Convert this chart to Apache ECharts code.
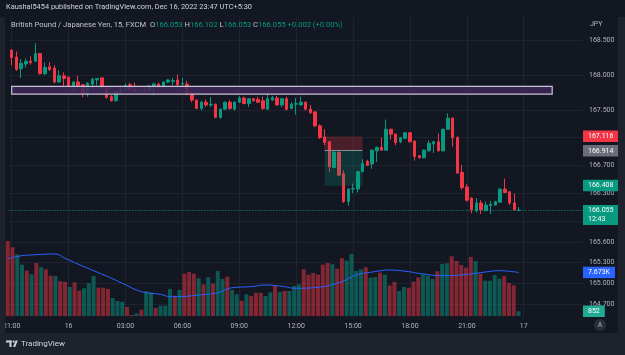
<!DOCTYPE html>
<html>
<head>
<meta charset="utf-8">
<title>GBPJPY 15m</title>
<script src="https://cdn.jsdelivr.net/npm/echarts@6.0.0/dist/echarts.min.js"></script>
<style>
  html, body { margin: 0; padding: 0; background: #131722; }
  #chart { width: 625px; height: 355px; }
</style>
</head>
<body>
<div id="chart"></div>
<script>
// 15 minute bars, 21:00 Dec 15 .. 23:45 Dec 16 (UTC+5:30)
var opens = [
  168.36,168.26,168.09,168.16,168.20,168.20,168.31,168.02,168.12,168.10,
  167.90,167.99,167.97,167.84,167.90,167.86,167.73,167.87,167.93,167.96,
  167.83,167.69,167.63,167.75,167.79,167.86,167.80,167.76,167.78,167.77,
  167.83,167.87,167.83,167.90,167.91,167.93,167.87,167.87,167.74,167.64,
  167.52,167.61,167.57,167.58,167.39,167.51,167.61,167.51,167.61,167.67,
  167.59,167.66,167.65,167.63,167.51,167.64,167.67,167.57,167.66,167.52,
  167.58,167.57,167.61,167.51,167.47,167.27,167.11,167.04,166.67,166.89,
  166.58,166.18,166.36,166.36,166.61,166.76,166.72,166.91,166.96,166.92,
  167.22,167.15,167.04,167.09,167.17,167.05,166.84,166.81,166.91,167.01,
  167.04,166.91,167.22,167.38,167.10,166.60,166.39,166.23,166.05,166.16,
  166.05,166.12,166.13,166.17,166.36,166.32,166.16,166.053
];
var closes = [
  168.25,168.08,168.17,168.20,168.18,168.31,168.02,168.11,168.08,167.90,
  167.99,167.95,167.84,167.90,167.85,167.73,167.88,167.94,167.95,167.82,
  167.68,167.63,167.76,167.80,167.85,167.79,167.77,167.78,167.76,167.84,
  167.87,167.82,167.90,167.93,167.92,167.86,167.88,167.73,167.64,167.52,
  167.61,167.57,167.58,167.39,167.51,167.61,167.52,167.61,167.67,167.59,
  167.66,167.63,167.61,167.52,167.66,167.68,167.57,167.66,167.51,167.58,
  167.59,167.61,167.51,167.46,167.27,167.10,167.03,166.68,166.89,166.56,
  166.18,166.36,166.37,166.61,166.73,166.70,166.92,166.96,166.92,167.22,
  167.15,167.03,167.10,167.17,167.04,166.83,166.81,166.92,167.02,167.04,
  166.91,167.22,167.38,167.10,166.59,166.38,166.20,166.06,166.16,166.06,
  166.13,166.14,166.18,166.36,166.31,166.16,166.06,166.055
];
var lows = [
  168.14,168.06,167.96,168.11,168.15,168.19,168.01,168.00,168.06,167.88,
  167.89,167.84,167.83,167.75,167.83,167.68,167.69,167.80,167.85,167.80,
  167.66,167.62,167.62,167.74,167.76,167.77,167.76,167.76,167.75,167.76,
  167.71,167.81,167.80,167.89,167.85,167.85,167.82,167.71,167.61,167.51,
  167.49,167.54,167.54,167.38,167.37,167.50,167.50,167.49,167.60,167.58,
  167.54,167.62,167.60,167.50,167.50,167.63,167.56,167.54,167.49,167.51,
  167.43,167.56,167.49,167.44,167.25,167.08,166.99,166.61,166.66,166.55,
  166.16,166.12,166.30,166.31,166.60,166.69,166.65,166.75,166.91,166.91,
  167.07,166.99,167.02,167.08,167.03,166.77,166.80,166.80,166.90,166.88,
  166.90,166.90,167.21,166.97,166.58,166.35,166.18,166.01,166.02,166.00,
  166.04,166.00,166.12,166.16,166.30,166.13,166.05,166.053
];
var highs = [
  168.37,168.34,168.23,168.24,168.27,168.46,168.32,168.18,168.19,168.14,
  168.07,168.04,167.98,167.91,167.99,167.87,167.90,167.96,167.95,167.96,
  167.84,167.71,167.77,167.83,167.88,167.89,167.89,167.80,167.84,167.86,
  167.89,167.89,167.91,167.94,167.96,168.01,167.96,167.92,167.77,167.65,
  167.63,167.65,167.68,167.59,167.52,167.62,167.64,167.62,167.70,167.69,
  167.67,167.67,167.69,167.69,167.74,167.70,167.70,167.67,167.69,167.61,
  167.67,167.69,167.62,167.57,167.48,167.29,167.22,167.05,166.91,166.90,
  166.63,166.37,166.44,166.62,166.79,166.78,166.93,166.97,167.10,167.36,
  167.23,167.16,167.11,167.18,167.18,167.06,166.85,166.93,167.06,167.05,
  167.16,167.23,167.45,167.39,167.12,166.71,166.43,166.24,166.23,166.20,
  166.18,166.19,166.19,166.37,166.51,166.33,166.29,166.102
];
var volumes = [
  13200,12100,10860,9040,7980,7350,9330,8580,8230,7100,
  7050,6120,6000,5120,5940,4470,4890,5770,7050,4990,
  4990,4760,3180,2650,2530,1600,190,490,1130,4360,
  4110,1420,1830,1830,4760,3590,4590,7450,7750,7450,
  6650,5560,6820,5700,7930,6520,6930,4590,3830,2710,
  3830,3530,4110,4110,3530,4180,5410,4240,4410,4410,
  5290,5590,8230,7280,7580,7280,9040,9330,9110,8330,
  10160,9740,10920,7930,8230,8580,6750,6820,7630,7280,
  5410,6000,4410,5120,4990,6050,6820,7350,7100,6520,
  7880,9160,9280,10510,9690,8980,8510,10390,9630,7450,
  6220,6220,7230,6570,7050,5820,5410,852
];
// volume moving average, read at a few bars
var volMaIdx = [0,3,5,10,12,16,21,24,28,32,34,36,40,42,44,47,51,54,58,60,66,70,73,76,80,84,86,91,95,99,103,107];
var volMaVal = [10090,10620,10740,10920,10160,8680,6930,5770,4290,3830,3410,3410,3710,3830,4110,4990,5170,5470,5170,4890,5170,6050,7230,7700,8100,7810,7520,7100,7230,7630,7980,7673];

var gridTicks = [168.5, 168.0, 167.5, 167.1, 166.7, 166.3, 165.9, 165.6, 165.3, 165.0, 164.7];
var shownTicks = ['168.5', '168.0', '167.5', '166.7', '166.3', '165.6', '165.3', '165.0', '164.7'];

// drawings on the chart
var rectTop = 167.838, rectBottom = 167.727, rectEndBar = 114;
var posStop = 167.116, posEntry = 166.914, posTarget = 166.408, posFrom = 66, posTo = 74;
var lastPrice = 166.055;
var lastLabelBar = 108;

var UP = '#089981', DOWN = '#f23645';
var FONT = 'Roboto, "Liberation Sans", sans-serif';
var CLEAR = 'rgba(0,0,0,0)';

function pad(n) { return n < 10 ? '0' + n : '' + n; }
var categories = [], tickText = [];
var t0 = Date.UTC(2022, 11, 15, 21, 0);
for (var i = 0; i < 121; i++) {
  var d = new Date(t0 + i * 15 * 60000);
  var h = d.getUTCHours(), m = d.getUTCMinutes();
  categories.push(d.getUTCDate() + ' ' + pad(h) + ':' + pad(m));
  var lab = '';
  if (i <= lastLabelBar && m === 0) {
    if (h === 0) lab = String(d.getUTCDate());
    else if (h % 3 === 0) lab = pad(h) + ':00';
  }
  tickText.push(lab);
}

var candles = opens.map(function (o, i) { return [o, closes[i], lows[i], highs[i]]; });
var volData = volumes.map(function (v, i) {
  return { value: v, itemStyle: { color: closes[i] >= opens[i] ? 'rgba(8,153,129,0.5)' : 'rgba(242,54,69,0.5)' } };
});
var maData = volMaIdx.map(function (x, i) { return [x, volMaVal[i]]; });

var gridLines = gridTicks.map(function (v) { return { yAxis: v }; });
tickText.forEach(function (t, i) { if (t) gridLines.push({ xAxis: categories[i] }); });

function tag(value, text, bg, line, offsetY) {
  return {
    yAxis: value,
    lineStyle: line || { color: CLEAR, width: 0 },
    label: {
      show: true, position: 'end', distance: 0, formatter: text,
      backgroundColor: bg, color: '#ffffff', padding: [1.5, 5, 1.5, 5],
      fontSize: 7, fontFamily: FONT, lineHeight: 8.5,
      offset: [0, offsetY || 0]
    }
  };
}

var chart = echarts.init(document.getElementById('chart'), null, { renderer: 'canvas' });

var option = {
  backgroundColor: '#131722',
  animation: false,
  textStyle: { fontFamily: FONT },
  grid: [
    { left: 5.3, right: 42, top: 16.7, bottom: 36.7 },
    { left: 5.3, right: 42, top: 16.7, bottom: 38.9 }
  ],
  xAxis: [
    {
      type: 'category', gridIndex: 0, data: categories, boundaryGap: true,
      axisLine: { show: false }, axisTick: { show: false }, splitLine: { show: false },
      axisLabel: {
        color: '#b2b5be', fontSize: 7, margin: 4,
        interval: function (idx) { return tickText[idx] !== ''; },
        formatter: function (v, idx) { return tickText[idx]; }
      }
    },
    { type: 'category', gridIndex: 1, data: categories, boundaryGap: true, show: false }
  ],
  yAxis: [
    {
      type: 'value', gridIndex: 0, position: 'right',
      min: 164.5, max: 168.84, interval: 0.1,
      axisLine: { show: false }, axisTick: { show: false }, splitLine: { show: false },
      axisLabel: {
        color: '#b2b5be', fontSize: 7, margin: 6,
        formatter: function (v) {
          return shownTicks.indexOf(v.toFixed(1)) >= 0 ? v.toFixed(3) : '';
        }
      }
    },
    { type: 'value', gridIndex: 1, min: 0, max: 52600, show: false }
  ],
  series: [
    {
      // grid lines
      type: 'line', xAxisIndex: 0, yAxisIndex: 0, data: [], silent: true,
      markLine: {
        z: 0, silent: true, symbol: ['none', 'none'],
        label: { show: false },
        lineStyle: { color: '#1f2330', width: 1, type: 'solid' },
        data: gridLines
      }
    },
    {
      type: 'bar', xAxisIndex: 1, yAxisIndex: 1, data: volData,
      barWidth: 4, silent: true,
      markLine: {
        z: 6, silent: true, symbol: ['none', 'none'],
        data: [
          tag(volMaVal[volMaVal.length - 1], '7.673K', '#2962ff'),
          tag(volumes[volumes.length - 1], '852', '#22ab94')
        ]
      }
    },
    {
      type: 'line', xAxisIndex: 1, yAxisIndex: 1, data: maData,
      smooth: 0.4, showSymbol: false, silent: true,
      lineStyle: { color: '#2962ff', width: 1 }
    },
    {
      type: 'candlestick', xAxisIndex: 0, yAxisIndex: 0, data: candles,
      barWidth: 3, silent: true,
      itemStyle: { color: UP, color0: DOWN, borderColor: UP, borderColor0: DOWN, borderWidth: 1 },
      markLine: {
        z: 6, silent: true, symbol: ['none', 'none'],
        data: [
          tag(lastPrice, '166.055\n12:43', UP, { color: UP, type: [1, 2], width: 1 }, 5),
          tag(posStop, '167.116', DOWN),
          tag(posEntry, '166.914', '#6b6e78'),
          tag(posTarget, '166.408', UP)
        ]
      }
    },
    {
      // rectangle drawing and short position tool
      type: 'line', xAxisIndex: 0, yAxisIndex: 0, data: [], silent: true,
      markArea: {
        z: 4, silent: true,
        data: [
          [
            { xAxis: categories[0], yAxis: rectTop,
              itemStyle: { color: 'rgba(62,40,88,0.88)', borderColor: '#c9c1d6', borderWidth: 1.2 } },
            { xAxis: categories[rectEndBar], yAxis: rectBottom }
          ],
          [
            { xAxis: categories[posFrom], yAxis: posStop, itemStyle: { color: 'rgba(242,54,69,0.25)' } },
            { xAxis: categories[posTo], yAxis: posEntry }
          ],
          [
            { xAxis: categories[posFrom], yAxis: posEntry, itemStyle: { color: 'rgba(8,153,129,0.22)' } },
            { xAxis: categories[posTo], yAxis: posTarget }
          ]
        ]
      },
      markLine: {
        z: 4, silent: true, symbol: ['none', 'none'], label: { show: false },
        lineStyle: { color: '#8a8d96', width: 1, type: 'solid' },
        data: [[
          { xAxis: categories[posFrom], yAxis: posEntry },
          { xAxis: categories[posTo], yAxis: posEntry }
        ]]
      }
    }
  ],
  graphic: [
    { type: 'rect', z: 100, shape: { x: 0, y: 17, width: 5, height: 316 }, style: { fill: '#1e222d' } },
    { type: 'rect', z: 100, shape: { x: 618, y: 17, width: 7, height: 316 }, style: { fill: '#1e222d' } },
    { type: 'rect', z: 100, shape: { x: 0, y: 333, width: 625, height: 22 }, style: { fill: '#1e222d' } },
    {
      type: 'text', z: 101, left: 6, top: 4,
      style: { text: 'Kaushal5454 published on TradingView.com, Dec 16, 2022 23:47 UTC+5:30', fill: '#d1d4dc', font: '7.4px ' + FONT }
    },
    {
      type: 'text', z: 101, left: 11, top: 21,
      style: {
        text: '{n|British Pound / Japanese Yen, 15, FXCM}  {n|O}{g|166.053} {n|H}{g|166.102} {n|L}{g|166.053} {n|C}{g|166.055} {g|+0.002 (+0.00%)}',
        font: '7.6px ' + FONT,
        rich: {
          n: { fill: '#c2c5cc', fontSize: 7.6, fontFamily: FONT },
          g: { fill: UP, fontSize: 7.6, fontFamily: FONT }
        }
      }
    },
    {
      type: 'text', z: 101, left: 590, top: 21,
      style: { text: 'JPY', fill: '#b2b5be', font: '7px ' + FONT }
    },
    { type: 'circle', z: 101, shape: { cx: 600, cy: 325, r: 6 }, style: { fill: '#2a2e39' } },
    {
      type: 'text', z: 102, x: 600, y: 325,
      style: { text: 'A', fill: '#b2b5be', font: '7px ' + FONT, align: 'center', verticalAlign: 'middle' }
    },
    // TradingView logo
    { type: 'rect', z: 101, shape: { x: 6, y: 340.5, width: 5.5, height: 2 }, style: { fill: '#d1d4dc' } },
    { type: 'rect', z: 101, shape: { x: 9.5, y: 340.5, width: 2, height: 6.5 }, style: { fill: '#d1d4dc' } },
    { type: 'circle', z: 101, shape: { cx: 13.6, cy: 341.6, r: 1.1 }, style: { fill: '#d1d4dc' } },
    { type: 'polygon', z: 101, shape: { points: [[13, 347], [15.6, 340.5], [17.8, 340.5], [15.2, 347]] }, style: { fill: '#d1d4dc' } },
    {
      type: 'text', z: 101, left: 21, top: 339.5,
      style: { text: 'TradingView', fill: '#d1d4dc', font: '8px ' + FONT }
    }
  ]
};

chart.setOption(option);
window.addEventListener('resize', function () { chart.resize(); });
</script>
</body>
</html>
